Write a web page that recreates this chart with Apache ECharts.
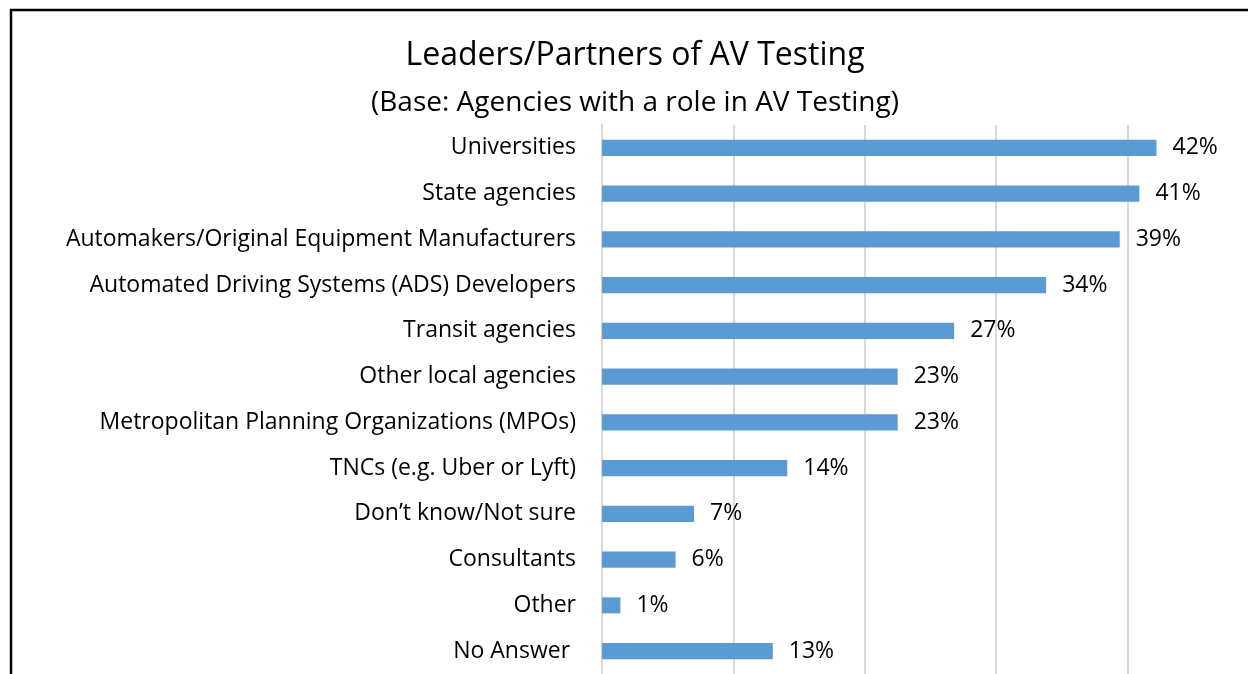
<!DOCTYPE html>
<html>
<head>
<meta charset="utf-8">
<script src="https://cdn.jsdelivr.net/npm/echarts@6/dist/echarts.min.js"></script>
<style>
  html, body { margin: 0; padding: 0; background: #fff; }
  #chart { width: 1248px; height: 674px; }
</style>
</head>
<body>
<div id="chart"></div>
<script>
// categories, top to bottom as in the picture
const categories = [
  'Universities',
  'State agencies',
  'Automakers/Original Equipment Manufacturers',
  'Automated Driving Systems (ADS) Developers',
  'Transit agencies',
  'Other local agencies',
  'Metropolitan Planning Organizations (MPOs)',
  'TNCs (e.g. Uber or Lyft)',
  'Don\u2019t know/Not sure',
  'Consultants',
  'Other',
  'No Answer '
];
// share of agencies, in percent
const shares = [42.2, 40.9, 39.4, 33.8, 26.8, 22.5, 22.5, 14.1, 7.0, 5.6, 1.4, 13.0];
const xTicks = [0, 10, 20, 30, 40, 50];

const titleText = 'Leaders/Partners of AV Testing';
const subText = '(Base: Agencies with a role in AV Testing)';

const font = '"Open Sans"';

const myChart = echarts.init(document.getElementById('chart'));

const option = {
  animation: false,
  backgroundColor: '#ffffff',
  graphic: [
    // outer frame (left and top edge of the original chart box)
    { type: 'line', shape: { x1: 11, y1: 9, x2: 11, y2: 674 }, style: { stroke: '#000', lineWidth: 2.5 } },
    { type: 'line', shape: { x1: 10, y1: 10, x2: 1248, y2: 10 }, style: { stroke: '#000', lineWidth: 2.5 } },
    {
      type: 'text', x: 635, y: 56,
      style: { text: titleText, font: '32px ' + font, fill: '#000', align: 'center', verticalAlign: 'middle' }
    },
    {
      type: 'text', x: 635, y: 103,
      style: { text: subText, font: '28px ' + font, fill: '#000', align: 'center', verticalAlign: 'middle' }
    }
  ],
  grid: {
    left: 602,
    width: 657,
    top: 125,
    bottom: 0,
    containLabel: false,
    outerBoundsMode: 'none'
  },
  xAxis: {
    type: 'value',
    min: xTicks[0],
    max: xTicks[xTicks.length - 1],
    interval: 10,
    axisLabel: { show: false },
    axisLine: { show: false },
    axisTick: { show: false },
    splitLine: { show: true, lineStyle: { color: '#d9d9d9', width: 2 } }
  },
  yAxis: {
    type: 'category',
    inverse: true,
    data: categories,
    axisLine: { show: true, lineStyle: { color: '#d9d9d9', width: 2 } },
    axisTick: { show: false },
    axisLabel: {
      color: '#000',
      fontFamily: font,
      fontSize: 23,
      margin: 26
    }
  },
  series: [
    {
      type: 'bar',
      data: shares,
      barWidth: '35%',
      itemStyle: { color: '#5b9bd5' },
      label: {
        show: true,
        position: 'right',
        distance: 16,
        color: '#000',
        fontFamily: font,
        fontSize: 23,
        formatter: (p) => Math.round(p.value) + '%'
      }
    }
  ]
};

myChart.setOption(option);
</script>
</body>
</html>
